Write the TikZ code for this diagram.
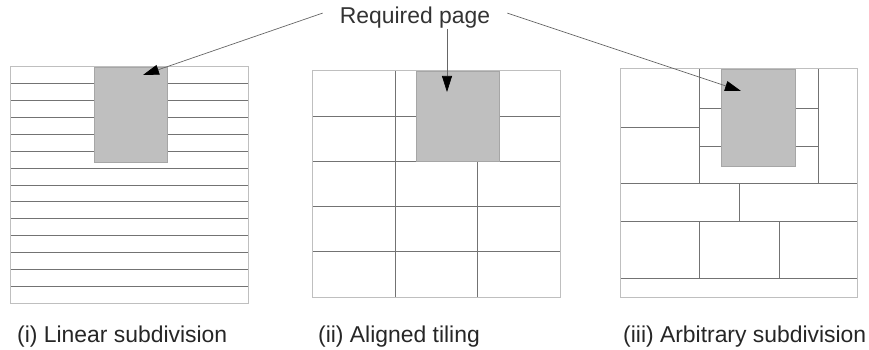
\documentclass[tikz,border=0pt]{standalone}
\usepackage{fontspec}
\setmainfont{Liberation Sans}
\usetikzlibrary{arrows.meta, positioning}

\begin{document}
\begin{tikzpicture}[x=1pt, y=-1pt, font=\fontsize{22.9}{27}\selectfont,
    gridline/.style={draw=black!55, line width=0.8pt},
    boxline/.style={draw=black!25, line width=1pt},
    pagebox/.style={draw=black!35, fill=black!25, line width=1pt, anchor=north west, inner sep=0pt},
    caption/.style={anchor=base west, inner sep=0pt, text=black!85},
    pointer/.style={black!60, line width=0.7pt, -{Triangle[length=16pt, width=10pt, color=black, fill=black]}}]
  \useasboundingbox (0,0) rectangle (869,350);

  % (i) linear
  \foreach \k in {1,...,13}
    \draw [gridline] (10,{67+16.857*\k}) -- (248,{67+16.857*\k});
  \draw [boxline] (10,67) rectangle (248,303);

  % (ii) aligned
  \foreach \y in {116,161,206,251}
    \draw [gridline] (312,\y) -- (560,\y);
  \draw [gridline] (395,71) -- (395,297);
  \draw [gridline] (477,71) -- (477,297);
  \draw [boxline] (312,71) rectangle (560,297);

  % (iii) arbitrary
  \draw [gridline] (699,69) -- (699,183) (818,69) -- (818,183);
  \draw [gridline] (620,127) -- (699,127);
  \draw [gridline] (699,108) -- (818,108) (699,146) -- (818,146);
  \draw [gridline] (620,183) -- (857,183) (739,183) -- (739,221);
  \draw [gridline] (620,221) -- (857,221);
  \draw [gridline] (699,221) -- (699,278) (779,221) -- (779,278);
  \draw [gridline] (620,278) -- (857,278);
  \draw [boxline] (620,69) rectangle (857,297);

  \node (page1) [pagebox, minimum width=73pt, minimum height=95pt] at (94,67) {};
  \node (page2) [pagebox, minimum width=83pt, minimum height=90pt] at (416,71) {};
  \node (page3) [pagebox, minimum width=74pt, minimum height=97pt] at (721,69) {};

  \coordinate (tip1) at (143,75);
  \coordinate (tip2) at (447,92);
  \coordinate (tip3) at (741,91);

  \node (req) [anchor=base, inner xsep=17pt, inner ysep=0pt, text=black!80] at (415,24) {Required page};
  \node (lab1) [caption] at (17,342) {(i) Linear subdivision};
  \node (lab2) [caption] at (318,342) {(ii) Aligned tiling};
  \node (lab3) [caption] at (623,342) {(iii) Arbitrary subdivision};

  \path [pointer]
    ([yshift=5pt]req.west) edge (tip1)
    (req.south -| tip2) edge (tip2)
    ([yshift=5pt]req.east) edge (tip3);
\end{tikzpicture}
\end{document}
